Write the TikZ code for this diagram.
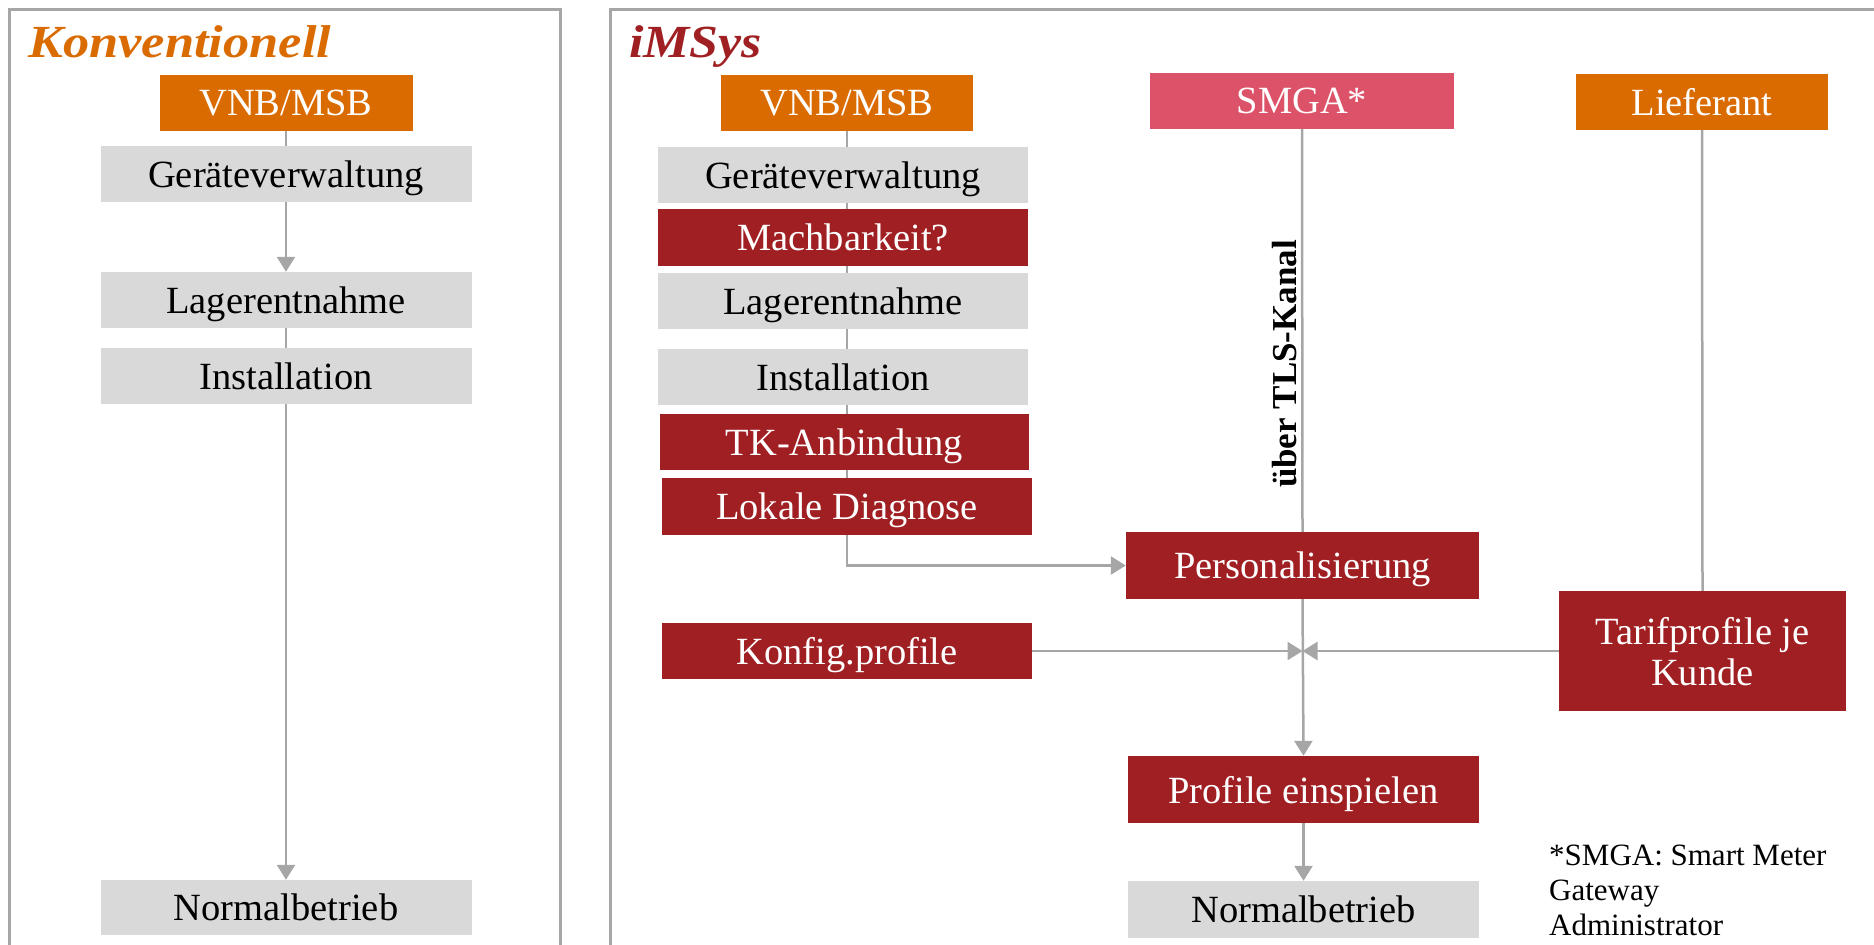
\documentclass[tikz,border=0pt]{standalone}
\usepackage{fontspec}
\setmainfont{Liberation Serif}
\usetikzlibrary{arrows.meta,backgrounds}
\definecolor{orng}{HTML}{DA6B00}
\definecolor{dred}{HTML}{A01F22}
\definecolor{pnk}{HTML}{DC5369}
\definecolor{gbox}{HTML}{D9D9D9}
\definecolor{gline}{HTML}{A6A6A6}
\begin{document}
\begin{tikzpicture}[x=1pt,y=-1pt,
  box/.style={minimum height=56pt, inner sep=0pt, text depth=0pt, font=\fontsize{38.5}{42}\selectfont, align=center},
  graybox/.style={box, fill=gbox, text=black},
  redbox/.style={box, fill=dred, text=white},
  orbox/.style={box, fill=orng, text=white},
  pinkbox/.style={box, fill=pnk, text=white},
  conn/.style={draw=gline, line width=2.5pt},
  arr/.style={conn, -{Triangle[width=18pt,length=15pt,fill=gline]}},
  panel/.style={draw=gline, line width=3pt},
  ttl/.style={anchor=base west, inner sep=0pt, font=\fontsize{46}{50}\selectfont\bfseries\itshape}]
\useasboundingbox (0,0) rectangle (1874,945);
\clip (0,0) rectangle (1874,945);
% panels
\draw[panel] (9,9.5) rectangle (560,980);
\draw[panel] (610,9.5) rectangle (1900,980);
% titles
\node[ttl, text=orng] (t1) at (28,57) {\scalebox{1.14}[1]{Konventionell}};
\node[ttl, text=dred] (t2) at (629,57) {\scalebox{1.13}[1]{iMSys}};
% left column
\node[orbox, minimum width=253pt] (vnb1) at (286,103) {VNB/MSB};
\node[graybox, minimum width=371pt] (ger1) at (286,174) {Geräteverwaltung};
\node[graybox, minimum width=371pt] (lag1) at (286,300) {Lagerentnahme};
\node[graybox, minimum width=371pt] (ins1) at (286,376) {Installation};
\node[graybox, minimum width=371pt, minimum height=55pt] (nor1) at (286,907.5) {Normalbetrieb};
% right column
\node[orbox, minimum width=252pt] (vnb2) at (847,103) {VNB/MSB};
\node[graybox, minimum width=370pt] (ger2) at (843,175) {Geräteverwaltung};
\node[redbox, minimum width=370pt, minimum height=57pt] (mach) at (843,237.5) {Machbarkeit?};
\node[graybox, minimum width=370pt] (lag2) at (843,301) {Lagerentnahme};
\node[graybox, minimum width=370pt] (ins2) at (843,377) {Installation};
\node[redbox, minimum width=369pt] (tk) at (844.5,442) {TK-Anbindung};
\node[redbox, minimum width=370pt, minimum height=57pt] (lok) at (847,506.5) {Lokale Diagnose};
\node[redbox, minimum width=370pt] (konf) at (847,651) {Konfig.profile};
\node[redbox, minimum width=353pt, minimum height=67pt] (pers) at (1302.5,565.5) {Personalisierung};
\node[redbox, minimum width=351pt, minimum height=67pt] (prof) at (1303.5,789.5) {Profile einspielen};
\node[graybox, minimum width=351pt, minimum height=57pt] (nor2) at (1303.5,909.5) {Normalbetrieb};
\node[pinkbox, minimum width=304pt] (smga) at (1302,101) {SMGA*};
\node[orbox, minimum width=252pt] (lief) at (1702,102) {Lieferant};
\node[redbox, minimum width=287pt, minimum height=120pt, font=\fontsize{38.5}{41}\selectfont] (tarif) at (1702.5,651) {Tarifprofile je\\Kunde};
\coordinate (join) at (pers.south |- konf.east);
% label
\node[rotate=90, anchor=base, inner sep=0pt, font=\fontsize{35}{40}\selectfont\bfseries] (tls) at (1296,364) {über TLS-Kanal};
% footnote
\node[anchor=north west, inner sep=0pt, align=left, font=\fontsize{31}{35}\selectfont] (fn) at (1549,845) {*SMGA: Smart Meter\\Gateway\\Administrator};
% connectors
\begin{scope}[on background layer]
\draw[conn] (vnb1.south) -- (ger1.north);
\draw[arr] (ger1.south) -- (lag1.north);
\draw[conn] (lag1.south) -- (ins1.north);
\draw[arr] (ins1.south) -- (nor1.north);
\draw[arr] (vnb2.south) |- (pers.west);
\draw[conn] (smga.south) -- (pers.north);
\draw[arr] (pers.south) -- (prof.north);
\draw[arr] (prof.south) -- (nor2.north);
\draw[arr] (konf.east) -- (join);
\draw[arr] (tarif.west) -- (join);
\draw[conn] (lief.south) -- (tarif.north);
\end{scope}
\end{tikzpicture}
\end{document}
